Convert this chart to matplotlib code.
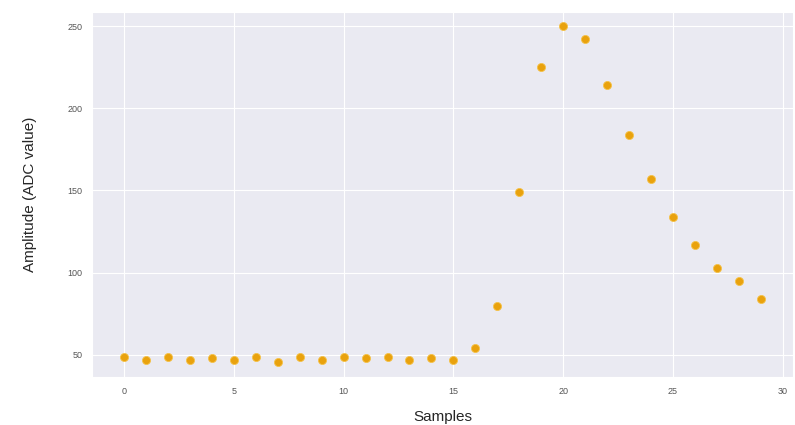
import matplotlib
matplotlib.use("Agg")
import matplotlib.pyplot as plt
import seaborn as sns

samples = list(range(30))
amplitude = [49, 47, 49, 47, 48, 47, 49, 46, 49, 47,
             49, 48, 49, 47, 48, 47, 54, 80, 149, 225,
             250, 242, 214, 184, 157, 134, 117, 103, 95, 84]

sns.set_style("darkgrid")
plt.rcParams['font.family'] = ['Liberation Sans', 'DejaVu Sans']

fig = plt.figure(figsize=(7.95, 4.25), dpi=100)
ax = fig.add_axes([0.116, 0.113, 0.881, 0.859])
ax.scatter(samples, amplitude, s=34, color='#e9a20e', edgecolor='#f5c24a', linewidth=0.6, zorder=3)
ax.set_xlabel("Samples", fontsize=11, labelpad=10)
ax.set_ylabel("Amplitude (ADC value)", fontsize=11, labelpad=22)
ax.set_xticks([0, 5, 10, 15, 20, 25, 30])
ax.set_yticks([50, 100, 150, 200, 250])
ax.tick_params(labelsize=6.5, colors='#555555')
ax.set_xlim(-1.45, 30.45)
ax.set_ylim(36.6, 258.6)
fig.savefig("out.png", dpi=100)
